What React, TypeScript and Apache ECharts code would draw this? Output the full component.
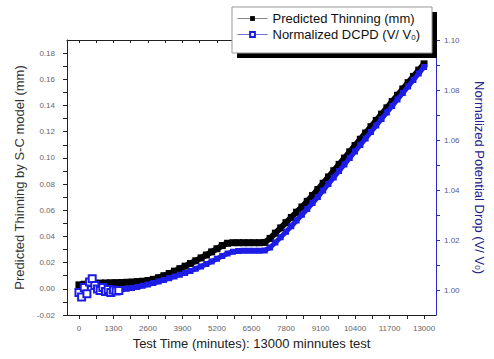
import React, { useEffect, useRef } from "react";
import * as echarts from "echarts";

// Test time (minutes) sampled along the predicted-thinning band
const thinningTime = [
  0, 200, 400, 600, 800, 1000, 1200, 1400, 1600, 1800, 2000, 2200, 2400, 2600, 2800, 3000,
  3200, 3400, 3600, 3800, 4000, 4200, 4400, 4600, 4800, 5000, 5200, 5400, 5600, 5800, 6000,
  6200, 6400, 6600, 6800, 7000, 7200, 7400, 7600, 7800, 8000, 8200, 8400, 8600, 8800, 9000,
  9200, 9400, 9600, 9800, 10000, 10200, 10400, 10600, 10800, 11000, 11200, 11400, 11600,
  11800, 12000, 12200, 12400, 12600, 12800, 13000,
];
// Predicted thinning (mm)
const predictedThinning = [
  0.003, 0.0035, 0.004, 0.0042, 0.0044, 0.0045, 0.0046, 0.0047, 0.0048, 0.005, 0.0052, 0.0055,
  0.0058, 0.0063, 0.0072, 0.0085, 0.01, 0.0117, 0.0135, 0.0154, 0.0173, 0.0193, 0.0214, 0.0236,
  0.0258, 0.0282, 0.0306, 0.033, 0.0348, 0.0352, 0.0352, 0.0352, 0.0352, 0.0352, 0.0352, 0.0354,
  0.0385, 0.0425, 0.0465, 0.0505, 0.0545, 0.0585, 0.0625, 0.0668, 0.0712, 0.0758, 0.0806,
  0.0854, 0.0902, 0.095, 0.0998, 0.1046, 0.1094, 0.1142, 0.119, 0.1238, 0.1286, 0.1334,
  0.1382, 0.143, 0.1478, 0.1526, 0.1574, 0.1622, 0.167, 0.1718,
];

// Early scattered DCPD readings (open squares)
const dcpdScatterTime = [0, 100, 200, 300, 400, 500, 600, 700, 800, 900, 1000, 1100, 1200, 1300, 1400, 1500];
const dcpdScatter = [
  0.999, 0.9972, 1.001, 0.9985, 1.0032, 1.0045, 1.0018, 1.0004, 0.9998, 1.001, 0.9994, 1.0002,
  0.999, 1.0, 0.9996, 0.9998,
];

// Normalized DCPD (V/V0) band
const dcpdTime = [
  1000, 1200, 1400, 1600, 1800, 2000, 2200, 2400, 2600, 2800, 3000, 3200, 3400, 3600, 3800,
  4000, 4200, 4400, 4600, 4800, 5000, 5200, 5400, 5600, 5800, 6000, 6200, 6400, 6600, 6800,
  7000, 7200, 7400, 7600, 7800, 8000, 8200, 8400, 8600, 8800, 9000, 9200, 9400, 9600, 9800,
  10000, 10200, 10400, 10600, 10800, 11000, 11200, 11400, 11600, 11800, 12000, 12200, 12400,
  12600, 12800, 13000,
];
const dcpdNormalized = [
  0.9998, 0.9999, 1.0001, 1.0003, 1.0005, 1.0008, 1.0012, 1.0017, 1.0022, 1.0028, 1.0034,
  1.004, 1.0047, 1.0054, 1.0061, 1.0068, 1.0076, 1.0085, 1.0094, 1.0104, 1.0114, 1.0125,
  1.0136, 1.0146, 1.0153, 1.0156, 1.0157, 1.0157, 1.0157, 1.0157, 1.0158, 1.017, 1.019,
  1.0211, 1.0233, 1.0255, 1.0278, 1.0301, 1.0324, 1.0348, 1.0372, 1.0398, 1.0424, 1.045,
  1.0476, 1.0502, 1.0528, 1.0554, 1.058, 1.0606, 1.0632, 1.0658, 1.0684, 1.071, 1.0736,
  1.0762, 1.0788, 1.0814, 1.084, 1.0866, 1.0892,
];

// Tick labels
const xTickLabels = [0, 1300, 2600, 3900, 5200, 6500, 7800, 9100, 10400, 11700, 13000];
const leftTickLabels = [-0.02, 0.0, 0.02, 0.04, 0.06, 0.08, 0.1, 0.12, 0.14, 0.16, 0.18];
const rightTickLabels = [1.0, 1.02, 1.04, 1.06, 1.08, 1.1];

const SERIES_THIN = "Predicted Thinning (mm)";
const SERIES_DCPD = "Normalized DCPD (V/ V0)";

const withMidpoints = (arr: number[]) => {
  const out: number[] = [];
  arr.forEach((v, i) => {
    out.push(v);
    if (i < arr.length - 1) out.push(+((v + arr[i + 1]) / 2).toFixed(6));
  });
  return out;
};

const FONT = "Liberation Sans, Arial, sans-serif";
const BLUE = "#1c1ce6";

export default function App() {
  const ref = useRef<HTMLDivElement>(null);
  useEffect(() => {
    if (!ref.current) return;
    const chart = echarts.init(ref.current, undefined, { renderer: "svg" });
    const xMin = -450;
    const xMax = 13450;
    const option: any = {
      animation: false,
      textStyle: { fontFamily: FONT },
      grid: { left: 67, right: 53, top: 40, bottom: 44 },
      legend: {
        orient: "vertical",
        left: 237,
        top: 12,
        padding: 0,
        itemGap: 3,
        itemWidth: 30,
        itemHeight: 6,
        z: 30,
        textStyle: {
          fontFamily: FONT,
          fontSize: 13,
          color: "#111",
          rich: { sub: { fontSize: 8, lineHeight: 8, verticalAlign: "bottom" } },
        },
        formatter: (name: string) => name.replace("V0)", "V{sub|0})"),
        data: [
          { name: SERIES_THIN, lineStyle: { width: 1, color: "#888" } },
          { name: SERIES_DCPD, lineStyle: { width: 1, color: "#7070d8" } },
        ],
      },
      graphic: [
        { type: "rect", z: 20, shape: { x: 237, y: 12, width: 200, height: 46 }, style: { fill: "#000" } },
        {
          type: "rect",
          z: 21,
          shape: { x: 232, y: 7, width: 200, height: 46 },
          style: { fill: "#fff", stroke: "#999", lineWidth: 1 },
        },
      ],
      xAxis: [
        {
          type: "value",
          min: xMin,
          max: xMax,
          position: "bottom",
          name: "Test Time (minutes): 13000 minnutes test",
          nameLocation: "middle",
          nameGap: 22,
          nameTextStyle: { fontFamily: FONT, fontSize: 13, color: "#222" },
          axisLine: { show: true, onZero: false, lineStyle: { color: "#222", width: 1 } },
          axisTick: { show: true, length: 4, customValues: withMidpoints(xTickLabels), lineStyle: { color: "#222" } },
          axisLabel: {
            customValues: xTickLabels,
            margin: 9,
            fontSize: 8,
            color: "#666",
            fontFamily: FONT,
            formatter: (v: number) => String(Math.round(v)),
          },
          splitLine: { show: false },
        },
        {
          type: "value",
          min: xMin,
          max: xMax,
          position: "top",
          axisLine: { show: true, onZero: false, lineStyle: { color: "#222", width: 1 } },
          axisTick: { show: true, inside: true, length: 3, customValues: withMidpoints(xTickLabels), lineStyle: { color: "#222" } },
          axisLabel: { show: false },
          splitLine: { show: false },
        },
      ],
      yAxis: [
        {
          type: "value",
          min: -0.02,
          max: 0.19,
          position: "left",
          name: "Predicted Thinning by S-C model (mm)",
          nameLocation: "middle",
          nameGap: 41,
          nameTextStyle: { fontFamily: FONT, fontSize: 13, color: "#333" },
          axisLine: { show: true, onZero: false, lineStyle: { color: "#222", width: 1 } },
          axisTick: { show: true, length: 4, customValues: withMidpoints(leftTickLabels), lineStyle: { color: "#222" } },
          axisLabel: {
            customValues: leftTickLabels,
            margin: 12,
            fontSize: 8,
            color: "#666",
            fontFamily: FONT,
            formatter: (v: number) => v.toFixed(2),
          },
          splitLine: { show: false },
        },
        {
          type: "value",
          min: 0.99,
          max: 1.1,
          position: "right",
          name: "Normalized Potential Drop (V/ V{sub|0})",
          nameLocation: "middle",
          nameRotate: -90,
          nameGap: 37,
          nameTextStyle: {
            fontFamily: FONT,
            fontSize: 13,
            color: "#22228c",
            rich: { sub: { fontSize: 8, lineHeight: 8, verticalAlign: "bottom", color: "#22228c" } },
          },
          axisLine: { show: true, onZero: false, lineStyle: { color: "#2a2ac8", width: 1 } },
          axisTick: { show: true, length: 4, customValues: withMidpoints(rightTickLabels), lineStyle: { color: "#2a2ac8" } },
          axisLabel: {
            customValues: rightTickLabels,
            margin: 8,
            fontSize: 8,
            color: "#5a5a90",
            fontFamily: FONT,
            formatter: (v: number) => v.toFixed(2),
          },
          splitLine: { show: false },
        },
      ],
      series: [
        {
          name: SERIES_DCPD,
          type: "line",
          xAxisIndex: 0,
          yAxisIndex: 1,
          z: 5,
          data: dcpdScatterTime.map((t, i) => [t, dcpdScatter[i]]),
          symbol: "emptyRect",
          symbolSize: 7,
          showAllSymbol: true,
          itemStyle: { color: BLUE, borderWidth: 1 },
          lineStyle: { color: BLUE, width: 1 },
        },
        {
          name: SERIES_THIN,
          type: "line",
          xAxisIndex: 0,
          yAxisIndex: 0,
          z: 2,
          data: thinningTime.map((t, i) => [t, predictedThinning[i]]),
          symbol: "rect",
          symbolSize: 7,
          showAllSymbol: true,
          itemStyle: { color: "#000" },
          lineStyle: { color: "#000", width: 6 },
        },
        {
          name: SERIES_DCPD,
          type: "line",
          xAxisIndex: 0,
          yAxisIndex: 1,
          z: 3,
          data: dcpdTime.map((t, i) => [t, dcpdNormalized[i]]),
          symbol: "rect",
          symbolSize: 6,
          showAllSymbol: true,
          itemStyle: { color: BLUE },
          lineStyle: { color: BLUE, width: 5 },
        },
      ],
    };
    chart.setOption(option);
    return () => chart.dispose();
  }, []);
  return <div ref={ref} style={{ position: "fixed", left: 0, top: 0, width: 494, height: 359, background: "#fff" }} />;
}
